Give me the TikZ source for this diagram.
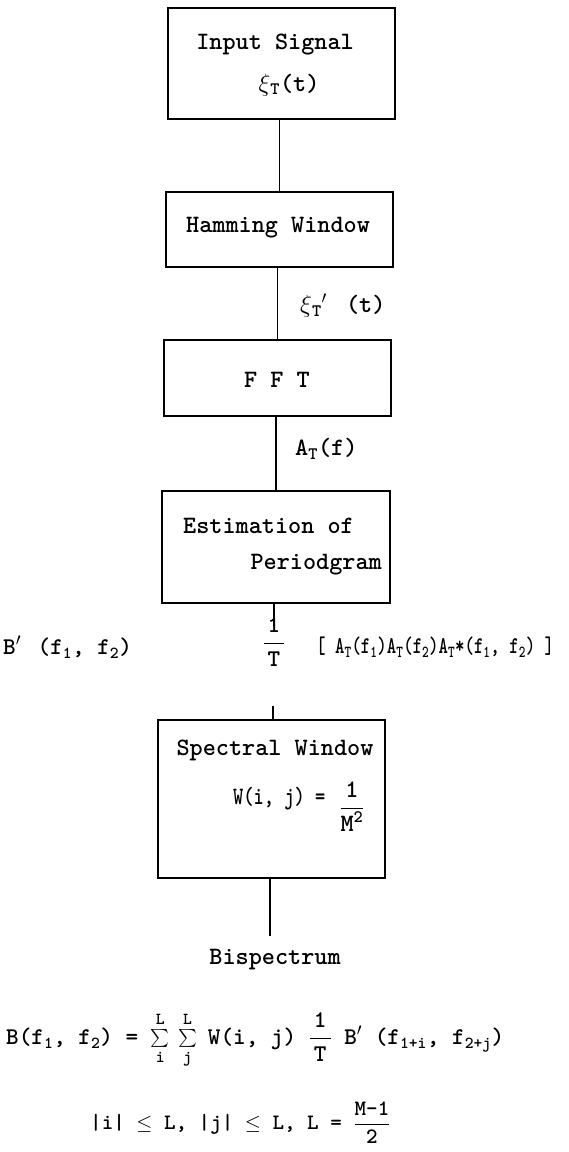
\documentclass[tikz,border=0pt]{standalone}
\usepackage{amsmath}
\usepackage{graphicx}
\newcommand\dgf{\ttfamily\bfseries\fontsize{25}{29}\selectfont}
\newcommand\fmf{\ttfamily\bfseries\fontsize{24}{28}\selectfont}
\newcommand\fmg{\ttfamily\bfseries\fontsize{22}{26}\selectfont}
\newcommand\ssub[1]{\textsubscript{#1}}
\newcommand\cnd[2]{\scalebox{#1}[1]{#2}}
\newcommand\smsum{\mathop{\vcenter{\hbox{\scalebox{0.72}{$\textstyle\sum$}}}}\limits}
\tikzset{
  boxnode/.style={draw, line width=1.6pt, inner sep=0pt},
  txt/.style={inner sep=0pt, font=\dgf},
  fml/.style={inner sep=0pt, font=\fmf},
  fms/.style={inner sep=0pt, font=\fmg},
  link/.style={line width=1.6pt},
}
\begin{document}
\begin{tikzpicture}[x=1pt,y=-1pt]
\useasboundingbox (0,0) rectangle (568,1152);
% boxes
\node[boxnode, minimum width=227pt, minimum height=111pt] (inp) at (281.5,63.5) {};
\node[boxnode, minimum width=227pt, minimum height=75pt] (ham) at (279.5,229.5) {};
\node[boxnode, minimum width=227pt, minimum height=76pt] (fft) at (277.5,378) {};
\node[boxnode, minimum width=228pt, minimum height=112pt] (est) at (276,547) {};
\node[boxnode, minimum width=227pt, minimum height=158pt] (spe) at (271.5,799) {};
% texts in boxes
\node[txt] (t1) at (275,45) {Input Signal};
\node[txt] (t2) at (289,85) {$\xi$\ssub{T}(t)};
\node[txt] (t3) at (278,228) {Hamming Window};
\node[txt, anchor=west] (t4) at (300,306) {$\xi$\ssub{T}$'$\hspace{6pt} (t)};
\node[txt] (t5) at (277,380) {F F T};
\node[txt, anchor=west] (t6) at (295,449) {A\ssub{T}(f)};
\node[txt, anchor=west] (t7) at (183,526) {Estimation of};
\node[txt, anchor=east] (t8) at (382,565) {Periodgram};
% row 1
\node[fml, anchor=west] (r1a) at (3,647) {B$'$\hspace{4pt} (f\ssub{1}, f\ssub{2})};
\node[fml] (r1f) at (274,642) {$\dfrac{\text{\,1\,}}{\text{T}}$};
\node[fml, anchor=west] (r1b) at (316,647) {\cnd{0.75}{[ A\ssub{T}(f\ssub{1})A\ssub{T}(f\ssub{2})A\ssub{T}*(f\ssub{1}, f\ssub{2}) ]}};
% spectral window
\node[txt] (t9) at (275,750) {Spectral Window};
\node[txt, anchor=west] (t10) at (233,807) {\cnd{0.78}{W(i, j) =}\hspace{14pt}\raisebox{-10pt}{$\dfrac{\text{\,1\,}}{\text{M\textsuperscript{2}}}$}};
% bispectrum
\node[txt] (bis) at (275,960) {Bispectrum};
% formulas
\node[fml, anchor=west] (r2) at (6,1040) {B(f\ssub{1}, f\ssub{2}) = $\smsum_{\text{i}}^{\text{L}}\,\smsum_{\text{j}}^{\text{L}}$\hspace{11pt}W(i, j) $\dfrac{\text{\,1\,}}{\text{T}}$ B$'$ (f\ssub{1+i}, f\ssub{2+j})};
\node[fms, anchor=west] (r3) at (90,1123) {|i| $\leq$ L, |j| $\leq$ L, L = $\dfrac{\text{M-1}}{\text{2}}$};
% coordinates for free ends
\coordinate (c1) at (274,626);
\coordinate (c2) at (273,706);
\coordinate (c3) at (270,936);
% connectors
\draw[link] (ham.north) -- (ham.north |- inp.south);
\draw[link] (fft.north) -- (fft.north |- ham.south);
\draw[link] (est.north) -- (est.north |- fft.south);
\draw[link] (c1 |- est.south) -- (c1);
\draw[link] (c2) -- (c2 |- spe.north);
\draw[link] (c3 |- spe.south) -- (c3);
\end{tikzpicture}
\end{document}
